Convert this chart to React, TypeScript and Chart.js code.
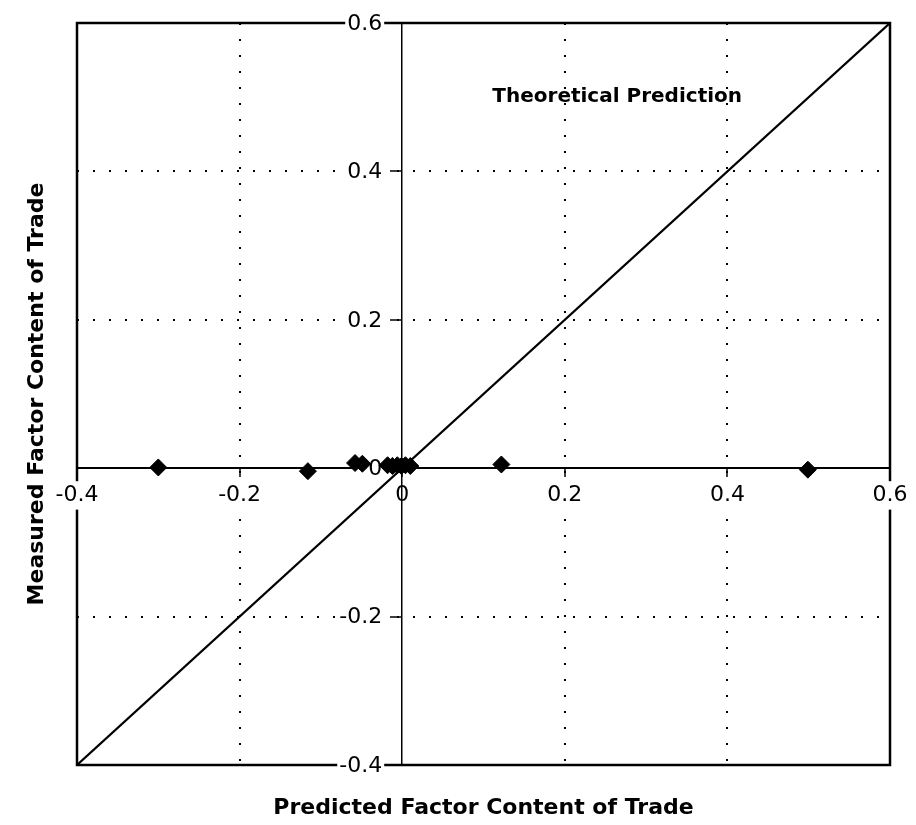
import React, { useEffect, useRef } from "react";
import { Chart, registerables } from "chart.js";

Chart.register(...registerables);

// Observed data points (predicted vs measured factor content of trade)
const predicted = [-0.300, -0.116, -0.058, -0.049, -0.018, -0.012, -0.006, -0.001, 0.004, 0.010, 0.122, 0.499];
const measured = [0.001, -0.004, 0.007, 0.006, 0.004, 0.003, 0.004, 0.003, 0.004, 0.003, 0.005, -0.002];

// Theoretical prediction line (45-degree line)
const theoryX = [-0.4, 0.6];
const theoryY = [-0.4, 0.6];

const xTicks = [-0.4, -0.2, 0, 0.2, 0.4, 0.6];
const yTicks = [-0.4, -0.2, 0, 0.2, 0.4, 0.6];

const xTitle = "Predicted Factor Content of Trade";
const yTitle = "Measured Factor Content of Trade";
const annotationText = "Theoretical Prediction";
const annotationAt = { x: 0.418, y: 0.5 };

const TICK_FONT = "22px 'DejaVu Sans'";

const fmt = (v: number) => {
  const r = Math.round(v * 10) / 10;
  return r === 0 ? "0" : String(r);
};

const framePlugin = {
  id: "frame",
  beforeDraw(chart: any) {
    const { ctx, chartArea } = chart;
    ctx.save();
    ctx.strokeStyle = "#000";
    ctx.lineWidth = 2.5;
    ctx.strokeRect(chartArea.left, chartArea.top, chartArea.right - chartArea.left, chartArea.bottom - chartArea.top);
    ctx.restore();
  },
  beforeDatasetsDraw(chart: any) {
    // y-axis tick labels, to the left of the axis drawn at x = 0
    const { ctx, scales } = chart;
    const ax = scales.x.getPixelForValue(0);
    ctx.save();
    ctx.font = TICK_FONT;
    ctx.textAlign = "right";
    ctx.textBaseline = "middle";
    yTicks.forEach((v) => {
      const txt = fmt(v);
      const py = scales.y.getPixelForValue(v);
      const w = ctx.measureText(txt).width;
      const right = ax - 20;
      ctx.fillStyle = "#fff";
      ctx.fillRect(right - w - 2, py - 12, w + 4, 24);
      ctx.fillStyle = "#000";
      ctx.fillText(txt, right, py + 1);
    });
    ctx.restore();
  },
  afterDraw(chart: any) {
    const { ctx, chartArea, scales } = chart;
    ctx.save();
    ctx.fillStyle = "#000";
    ctx.textBaseline = "middle";
    // annotation
    ctx.font = "bold 20px 'DejaVu Sans'";
    ctx.textAlign = "right";
    ctx.fillText(annotationText, scales.x.getPixelForValue(annotationAt.x), scales.y.getPixelForValue(annotationAt.y));
    // x title
    ctx.font = "bold 22px 'DejaVu Sans'";
    ctx.textAlign = "center";
    ctx.fillText(xTitle, (chartArea.left + chartArea.right) / 2, chartArea.bottom + 43);
    // y title
    ctx.translate(chartArea.left - 40, (chartArea.top + chartArea.bottom) / 2);
    ctx.rotate(-Math.PI / 2);
    ctx.fillText(yTitle, 0, 0);
    ctx.restore();
  },
};

export default function App() {
  const ref = useRef<HTMLCanvasElement | null>(null);
  useEffect(() => {
    if (!ref.current) return;
    const gridColor = (ctx: any) => {
      const v = Math.round(ctx.tick?.value * 10) / 10;
      if (v === 0 || v === -0.4 || v === 0.6) return "rgba(0,0,0,0)";
      return "#000";
    };
    const chart = new Chart(ref.current, {
      type: "scatter",
      data: {
        datasets: [
          {
            label: "Theory",
            data: theoryX.map((x, i) => ({ x, y: theoryY[i] })),
            showLine: true,
            borderColor: "#000",
            borderWidth: 2.2,
            pointRadius: 0,
            order: 2,
          },
          {
            label: "Observed",
            data: predicted.map((x, i) => ({ x, y: measured[i] })),
            pointStyle: "rectRot",
            pointRadius: 8.5,
            backgroundColor: "#000",
            borderColor: "#000",
            borderWidth: 1,
            order: 1,
          },
        ],
      },
      options: {
        animation: false,
        responsive: true,
        maintainAspectRatio: false,
        layout: { padding: { left: 77, right: 26, top: 23, bottom: 60 } },
        plugins: { legend: { display: false }, tooltip: { enabled: false } },
        scales: {
          x: {
            type: "linear",
            position: { y: 0 } as any,
            min: -0.4,
            max: 0.6,
            afterBuildTicks: (s: any) => { s.ticks = xTicks.map((v) => ({ value: v })); },
            ticks: {
              callback: (v: any) => fmt(Number(v)),
              color: "#000",
              font: { family: "'DejaVu Sans'", size: 22 },
              padding: 6,
              maxRotation: 0,
              showLabelBackdrop: true,
              backdropColor: "#fff",
              backdropPadding: 1,
            } as any,
            grid: {
              color: gridColor,
              lineWidth: 2,
              tickLength: 8,
              tickColor: "#000",
              tickWidth: 1.5,
              tickBorderDash: [],
            } as any,
            border: { display: true, color: "#000", width: 2, dash: [2, 14] },
          },
          y: {
            type: "linear",
            position: { x: 0 } as any,
            min: -0.4,
            max: 0.6,
            afterBuildTicks: (s: any) => { s.ticks = yTicks.map((v) => ({ value: v })); },
            ticks: { display: false },
            grid: {
              color: gridColor,
              lineWidth: 2,
              tickLength: 11,
              tickColor: "#000",
              tickWidth: 1.5,
              tickBorderDash: [],
            } as any,
            border: { display: true, color: "#000", width: 1.5, dash: [2, 14] },
          },
        },
      },
      plugins: [framePlugin],
    });
    return () => chart.destroy();
  }, []);
  return (
    <div style={{ position: "absolute", left: 0, top: 0, width: 916, height: 825, background: "#fff" }}>
      <canvas ref={ref} />
    </div>
  );
}
